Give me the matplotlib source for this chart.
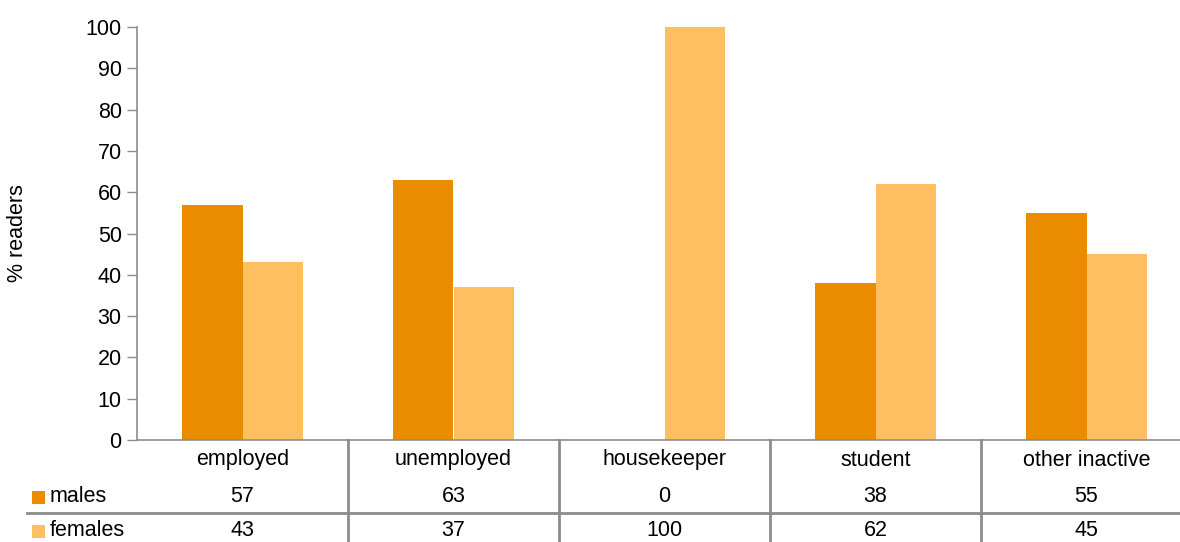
import matplotlib
matplotlib.use("Agg")
import matplotlib.pyplot as plt
import matplotlib.transforms as mtransforms
from matplotlib.patches import Rectangle
import numpy as np

plt.rcParams['font.family'] = ['Liberation Sans', 'DejaVu Sans']

categories = ["employed", "unemployed", "housekeeper", "student", "other inactive"]
males = [57, 63, 0, 38, 55]
females = [43, 37, 100, 62, 45]
series_names = ["males", "females"]
yticks = [0, 10, 20, 30, 40, 50, 60, 70, 80, 90, 100]

c_males = "#EA8B00"
c_females = "#FFBE5F"
grid_c = "#8C8C8C"
fs = 15.5

W, H = 1180, 542
fig = plt.figure(figsize=(W / 100, H / 100), dpi=100)
ax = fig.add_axes([137 / W, (H - 440) / H, (1192 - 137) / W, (440 - 27) / H])

x = np.arange(len(categories))
bw = 0.287
ax.bar(x - bw / 2, males, bw, color=c_males, label=series_names[0])
ax.bar(x + bw / 2, females, bw, color=c_females, label=series_names[1])

ax.set_xlim(-0.5, len(categories) - 0.5)
ax.set_ylim(0, 100)
ax.set_yticks(yticks)
ax.tick_params(axis='y', labelsize=fs, length=7, width=1, color=grid_c, pad=4)
ax.set_xticks([])
for s in ["top", "right"]:
    ax.spines[s].set_visible(False)
ax.spines["left"].set_color(grid_c)
ax.spines["bottom"].set_color(grid_c)
ax.spines["left"].set_linewidth(1.2)
ax.spines["bottom"].set_linewidth(1.2)

fig.text(18 / W, 1 - 233 / H, "% readers", rotation=90, ha="center", va="center", fontsize=fs)

# data table under the plot
tr = mtransforms.blended_transform_factory(ax.transData, fig.transFigure)
fy = lambda py: 1 - py / H
for b in np.arange(0.5, len(categories) - 0.5, 1.0):
    ax.plot([b, b], [fy(440), fy(H)], transform=tr, color=grid_c, lw=2, clip_on=False)
fig.add_artist(plt.Line2D([27 / W, 1.0], [fy(512.5), fy(512.5)], color=grid_c, lw=2))

for i, cat in enumerate(categories):
    ax.text(i, fy(460), cat, transform=tr, ha="center", va="center", fontsize=fs)
    ax.text(i, fy(496), str(males[i]), transform=tr, ha="center", va="center", fontsize=fs)
    ax.text(i, fy(530), str(females[i]), transform=tr, ha="center", va="center", fontsize=fs)

for row_y, name, col in [(497, series_names[0], c_males), (531, series_names[1], c_females)]:
    fig.add_artist(Rectangle((32 / W, fy(row_y + 7)), 13 / W, 13 / H,
                             transform=fig.transFigure, color=col, lw=0))
    fig.text(50 / W, fy(row_y), name, ha="left", va="center", fontsize=fs)

fig.savefig("out.png", dpi=100)
